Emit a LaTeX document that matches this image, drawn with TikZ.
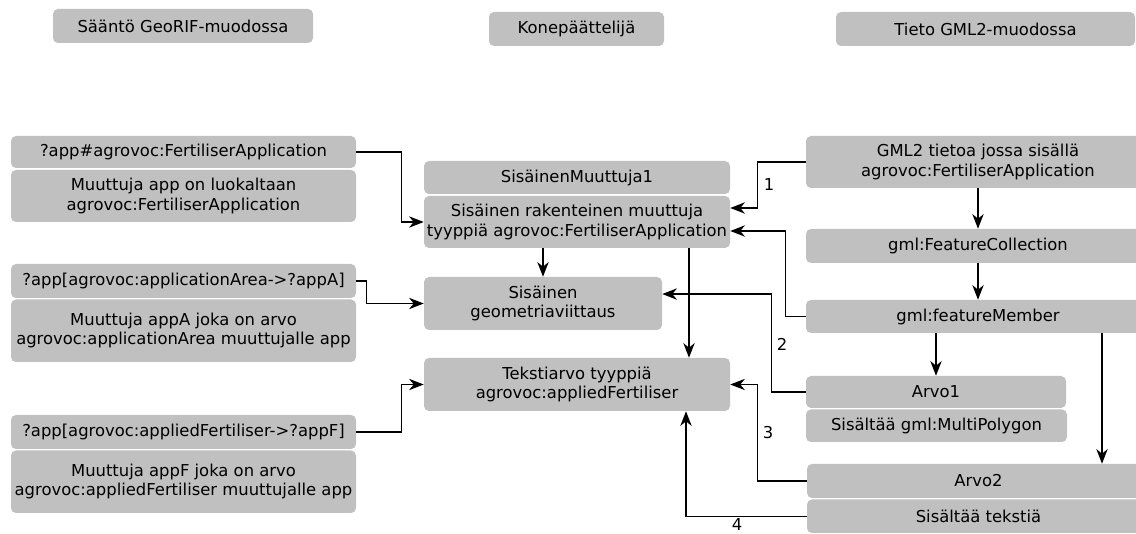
\documentclass[tikz,border=0pt]{standalone}
\usepackage{fontspec}
\setmainfont{DejaVu Sans}
\usetikzlibrary{arrows.meta,calc}
\definecolor{boxgrey}{HTML}{C0C0C0}
\tikzset{
 box/.style={fill=boxgrey, draw=none, rounded corners=3.75pt, inner sep=0pt, align=center, font=\fontsize{12.3}{14.5}\selectfont},
 arr/.style={-{Stealth[length=11pt,width=8.5pt,inset=3.5pt]}, line width=1.1pt},
 lab/.style={font=\fontsize{12.3}{14}\selectfont, inner sep=0pt}
}
% \gbox{name}{x1}{y1}{x2}{y2}{text}  (pixel coordinates)
\newcommand\gbox[6]{%
  \node[box, minimum width={(#4-#2)*0.75pt}, minimum height={(#5-#3)*0.75pt}]
    (#1) at ({(#2+#4)/2},{(#3+#5)/2}) {#6};}
\begin{document}
\begin{tikzpicture}[x=0.75pt,y=-0.75pt]
\useasboundingbox (0,0) rectangle (1136,534);
\clip (0,0) rectangle (1136,534);
% headers
\gbox{h1}{53}{9}{313}{43}{Sääntö GeoRIF-muodossa}
\gbox{h2}{489}{12}{664}{46}{Konepäättelijä}
\gbox{h3}{836}{12}{1135}{46}{Tieto GML2-muodossa}
% left column
\gbox{l1}{11}{136}{356}{168}{?app\#agrovoc:FertiliserApplication}
\gbox{l1d}{11}{170}{356}{222}{Muuttuja app on luokaltaan\\agrovoc:FertiliserApplication}
\gbox{l2}{11}{264}{356}{298}{?app[agrovoc:applicationArea->?appA]}
\gbox{l2d}{11}{299.5}{356}{362}{Muuttuja appA joka on arvo\\agrovoc:applicationArea muuttujalle app}
\gbox{l3}{11}{415}{356}{449}{?app[agrovoc:appliedFertiliser->?appF]}
\gbox{l3d}{11}{450.5}{356}{513}{Muuttuja appF joka on arvo\\agrovoc:appliedFertiliser muuttujalle app}
% middle column
\gbox{m0}{424}{161}{730}{194}{SisäinenMuuttuja1}
\gbox{m1}{424}{196}{730}{248}{Sisäinen rakenteinen muuttuja\\tyyppiä agrovoc:FertiliserApplication}
\gbox{m2}{424}{277}{662}{330}{Sisäinen\\geometriaviittaus}
\gbox{m3}{424}{358}{730}{411}{Tekstiarvo tyyppiä\\agrovoc:appliedFertiliser}
% right column
\gbox{r1}{806}{136}{1150}{188}{GML2 tietoa jossa sisällä\\agrovoc:FertiliserApplication}
\gbox{r2}{806}{229}{1150}{263}{gml:FeatureCollection}
\gbox{r3}{806}{300}{1150}{333}{gml:featureMember}
\gbox{r4}{806}{376}{1066}{408}{Arvo1}
\gbox{r5}{806}{409.5}{1067}{442}{Sisältää gml:MultiPolygon}
\gbox{r6}{807}{464}{1150}{498}{Arvo2}
\gbox{r7}{807}{499.5}{1150}{533}{Sisältää tekstiä}
% helper coordinates
\coordinate (x689) at (689,0);
\coordinate (x1102) at (1102,0);
\coordinate (x686) at (686,0);
% left connectors
\draw[arr] (l1.east) -- ++(45,0) |- (m1.west);
\draw[arr] (l2.east) -- ++(10,0) |- (m2.west);
\draw[arr] (l3.east) -- ++(45,0) |- (m3.west);
% middle connectors
\draw[arr] (m1.south -| m2.north) -- (m2.north);
\draw[arr] (m1.south -| x689) -- (m3.north -| x689);
% right connectors
\draw[arr] (r1.west) -- ++(-48,0) |- ([yshift=10.5pt]m1.east);
\draw[arr] (r3.west) -- ++(-20,0) |- ([yshift=-6.75pt]m1.east);
\draw[arr] (r1.south) -- (r2.north);
\draw[arr] (r2.south) -- (r3.north);
\draw[arr] (r3.south -| r4.north) -- (r4.north);
\draw[arr] (r3.south -| x1102) -- (r6.north -| x1102);
\draw[arr] (r4.west) -- ++(-34,0) |- ([yshift=7.1pt]m2.east);
\draw[arr] (r6.west) -- ++(-49,0) |- (m3.east);
\draw[arr] (r7.west) -- (r7.west -| x686) -- (m3.south -| x686);
% labels
\node[lab] (t1) at (769,185) {1};
\node[lab] (t2) at (782,344) {2};
\node[lab] (t3) at (768,433) {3};
\node[lab] (t4) at (737,525) {4};
\end{tikzpicture}
\end{document}
